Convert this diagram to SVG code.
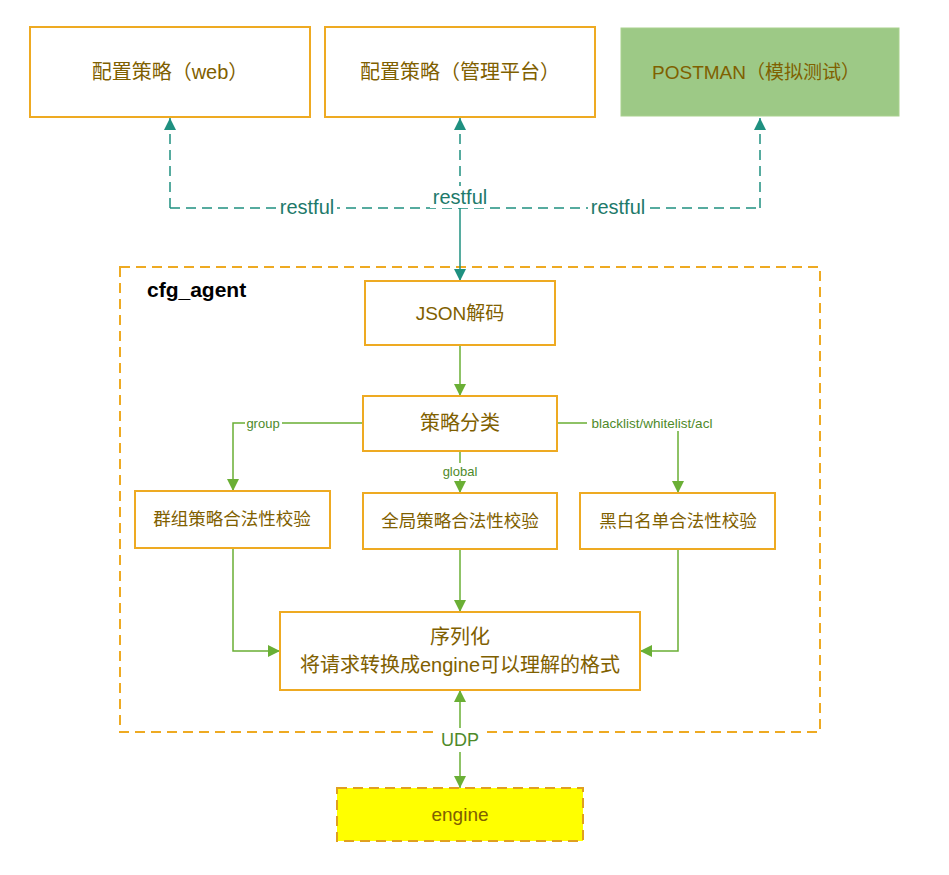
<svg xmlns="http://www.w3.org/2000/svg" width="949" height="875" viewBox="0 0 949 875">
<style>
.box{fill:#fff;stroke:#EEAA22;stroke-width:2}
.t{font-family:"Liberation Sans","Noto Sans CJK SC",sans-serif;fill:#7F6000;text-anchor:middle;dominant-baseline:central}
.teal{fill:none;stroke:#1F9080;stroke-width:1.5}
.green{fill:none;stroke:#6AAF35;stroke-width:1.5}
.dash{stroke-dasharray:10,6}
.lt{font-family:"Liberation Sans",sans-serif;text-anchor:middle;dominant-baseline:central}
</style>
<defs>
<marker id="ta" markerUnits="userSpaceOnUse" markerWidth="12" markerHeight="14" viewBox="0 0 12 14" refX="12" refY="7" orient="auto"><path d="M0,1 L12,7 L0,13 Z" fill="#1F9080"/></marker>
<marker id="ga" markerUnits="userSpaceOnUse" markerWidth="12" markerHeight="14" viewBox="0 0 12 14" refX="12" refY="7" orient="auto"><path d="M0,1 L12,7 L0,13 Z" fill="#6AAF35"/></marker>
<marker id="gs" markerUnits="userSpaceOnUse" markerWidth="12" markerHeight="14" viewBox="0 0 12 14" refX="0" refY="7" orient="auto"><path d="M12,1 L0,7 L12,13 Z" fill="#6AAF35"/></marker>
</defs>
<rect width="949" height="875" fill="#fff"/>

<g id="cfg_agent">
<rect x="120" y="267" width="700" height="465" fill="none" stroke="#EEAA22" stroke-width="2" stroke-dasharray="10,6"/>
<text x="147" y="289" font-family="Liberation Sans,sans-serif" font-weight="bold" font-size="21" fill="#000" dominant-baseline="central">cfg_agent</text>
</g>

<g id="connectors">
<path class="teal dash" d="M170,208 H760"/>
<path class="teal dash" d="M170,208 V118" marker-end="url(#ta)"/>
<path class="teal dash" d="M760,208 V118" marker-end="url(#ta)"/>
<path class="teal dash" d="M460,208 V118" marker-end="url(#ta)"/>
<path class="teal" d="M460,208 V281" marker-end="url(#ta)"/>
<rect x="277" y="197" width="60" height="22" fill="#fff"/>
<text class="lt" x="307" y="207" font-size="20" fill="#1E7A6A">restful</text>
<rect x="430" y="186" width="60" height="22" fill="#fff"/>
<text class="lt" x="460" y="197" font-size="20" fill="#1E7A6A">restful</text>
<rect x="588" y="197" width="60" height="22" fill="#fff"/>
<text class="lt" x="618" y="207" font-size="20" fill="#1E7A6A">restful</text>

<path class="green" d="M460,345 V396" marker-end="url(#ga)"/>
<path class="green" d="M363,423 H233 V491" marker-end="url(#ga)"/>
<path class="green" d="M460,451 V493" marker-end="url(#ga)"/>
<path class="green" d="M557,423 H678 V493" marker-end="url(#ga)"/>
<path class="green" d="M233,548 V651 H280" marker-end="url(#ga)"/>
<path class="green" d="M460,549 V612" marker-end="url(#ga)"/>
<path class="green" d="M678,549 V651 H640" marker-end="url(#ga)"/>
<path class="green" d="M460,690 V788" marker-start="url(#gs)" marker-end="url(#ga)"/>

<rect x="245" y="415" width="37" height="16" fill="#fff"/>
<text class="lt" x="263" y="423" font-size="13" fill="#4E8A2A">group</text>
<rect x="441" y="463" width="38" height="16" fill="#fff"/>
<text class="lt" x="460" y="471" font-size="13" fill="#4E8A2A">global</text>
<rect x="587" y="415" width="130" height="16" fill="#fff"/>
<text class="lt" x="652" y="423" font-size="13.5" fill="#4E8A2A">blacklist/whitelist/acl</text>
<rect x="439" y="728" width="42" height="24" fill="#fff"/>
<text class="lt" x="460" y="740" font-size="18" fill="#4E8A2A">UDP</text>
</g>

<g id="web"><rect class="box" x="30" y="27" width="280" height="90"/><text class="t" x="170" y="72" font-size="20">配置策略（web）</text></g>
<g id="mgmt"><rect class="box" x="325" y="27" width="270" height="90"/><text class="t" x="460" y="72" font-size="20">配置策略（管理平台）</text></g>
<g id="postman"><rect x="621" y="28" width="278" height="88" fill="#9DC986" stroke="#A9D18E" stroke-width="1"/><text class="t" x="756" y="72" font-size="19">POSTMAN（模拟测试）</text></g>

<g id="json"><rect class="box" x="365" y="281" width="190" height="64"/><text class="t" x="460" y="313" font-size="19">JSON解码</text></g>
<g id="classify"><rect class="box" x="363" y="396" width="194" height="55"/><text class="t" x="460" y="423" font-size="20">策略分类</text></g>
<g id="group_check"><rect class="box" x="135" y="491" width="195" height="57"/><text class="t" x="232" y="519" font-size="17.5">群组策略合法性校验</text></g>
<g id="global_check"><rect class="box" x="363" y="493" width="194" height="56"/><text class="t" x="460" y="521" font-size="17.5">全局策略合法性校验</text></g>
<g id="bw_check"><rect class="box" x="580" y="493" width="195" height="56"/><text class="t" x="678" y="521" font-size="17.5">黑白名单合法性校验</text></g>
<g id="serialize"><rect class="box" x="280" y="612" width="360" height="78"/>
<text class="t" x="460" y="637" font-size="20">序列化</text>
<text class="t" x="460" y="665" font-size="20">将请求转换成engine可以理解的格式</text></g>
<g id="engine"><rect x="337" y="788" width="246" height="53" fill="#FFFF00" stroke="#E0A020" stroke-width="2" stroke-dasharray="10,6"/><text class="t" x="460" y="814" font-size="19">engine</text></g>
</svg>
